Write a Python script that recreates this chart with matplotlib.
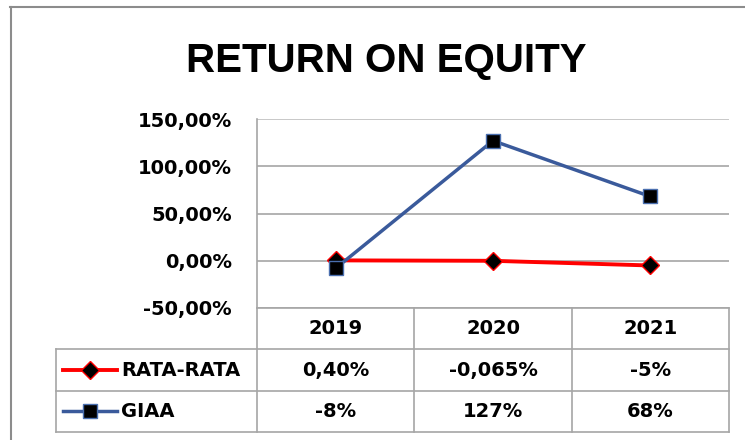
import matplotlib.pyplot as plt
from matplotlib.lines import Line2D

# data
years = ['2019', '2020', '2021']
rata_rata = [0.40, -0.065, -5.0]
giaa = [-8.0, 127.0, 68.0]
rata_labels = ['0,40%', '-0,065%', '-5%']
giaa_labels = ['-8%', '127%', '68%']
y_ticks = [-50, 0, 50, 100, 150]
y_tick_labels = ['-50,00%', '0,00%', '50,00%', '100,00%', '150,00%']

W, H = 745, 440
blue = '#3A5A9B'
red = '#FF0000'
grid_col = '#A6A6A6'
font_b = dict(family='DejaVu Sans', weight='bold', size=14)

fig = plt.figure(figsize=(W / 100, H / 100), dpi=100)

def px_box(x0, y0, x1, y1):
    return [x0 / W, 1 - y1 / H, (x1 - x0) / W, (y1 - y0) / H]

# outer chart frame (left + top)
fig.add_artist(Line2D([10.5 / W, 10.5 / W], [0, 1 - 7 / H], color='#8C8C8C', lw=1.5))
fig.add_artist(Line2D([10 / W, 1], [1 - 7 / H, 1 - 7 / H], color='#8C8C8C', lw=1.5))

fig.text(386 / W, 1 - 61 / H, 'RETURN ON EQUITY', ha='center', va='center',
         family='Liberation Sans', weight='bold', size=29)

# main plot
ax = fig.add_axes(px_box(257, 119, 729, 308))
x = list(range(len(years)))
ax.set_xlim(-0.5, 2.5)
ax.set_ylim(-50, 150)
for v in y_ticks:
    ax.axhline(v, color='#BFBFBF' if v == 150 else grid_col, lw=1.2, zorder=1)
ax.plot(x, rata_rata, color=red, lw=2.8, marker='D', markersize=9,
        markerfacecolor='black', markeredgecolor=red, markeredgewidth=1, zorder=3)
ax.plot(x, giaa, color=blue, lw=2.5, marker='s', markersize=10,
        markerfacecolor='black', markeredgecolor='#4A6FAF', markeredgewidth=1, zorder=4)
ax.set_yticks(y_ticks)
ax.set_yticklabels(y_tick_labels, **font_b)
ax.tick_params(axis='y', length=0, pad=18)
ax.set_xticks([])
for s in ['top', 'right', 'bottom']:
    ax.spines[s].set_visible(False)
ax.spines['left'].set_color(grid_col)
ax.spines['left'].set_linewidth(1.2)

# data table
ppu = (729 - 257) / 3
def tx(px):
    return -0.5 - (257 - px) / ppu

tx0 = tx(56)
tb = fig.add_axes(px_box(56, 308, 729, 432))
tb.set_xlim(tx0, 2.5)
tb.set_ylim(3, 0)
tb.axis('off')
lc = dict(color=grid_col, lw=1.2, clip_on=False)
tb.plot([-0.5, 2.5], [0, 0], **lc)
for r in [1, 2, 3]:
    tb.plot([tx0, 2.5], [r, r], **lc)
tb.plot([tx0, tx0], [1, 3], **lc)
for c in [-0.5, 0.5, 1.5, 2.5]:
    tb.plot([c, c], [0, 3], **lc)
for i, yr in enumerate(years):
    tb.text(i, 0.5, yr, ha='center', va='center', **font_b)
    tb.text(i, 1.5, rata_labels[i], ha='center', va='center', **font_b)
    tb.text(i, 2.5, giaa_labels[i], ha='center', va='center', **font_b)

# legend keys in row headers
tb.plot([tx(63), tx(117)], [1.5, 1.5], color=red, lw=2.8, clip_on=False)
tb.plot([tx(90)], [1.5], marker='D', markersize=9, markerfacecolor='black',
        markeredgecolor=red, markeredgewidth=1, clip_on=False)
tb.text(tx(121), 1.5, 'RATA-RATA', ha='left', va='center', **font_b)
tb.plot([tx(63), tx(117)], [2.5, 2.5], color=blue, lw=2.5, clip_on=False)
tb.plot([tx(90)], [2.5], marker='s', markersize=10, markerfacecolor='black',
        markeredgecolor='#4A6FAF', markeredgewidth=1, clip_on=False)
tb.text(tx(121), 2.5, 'GIAA', ha='left', va='center', **font_b)

fig.savefig('out.png', dpi=100)
